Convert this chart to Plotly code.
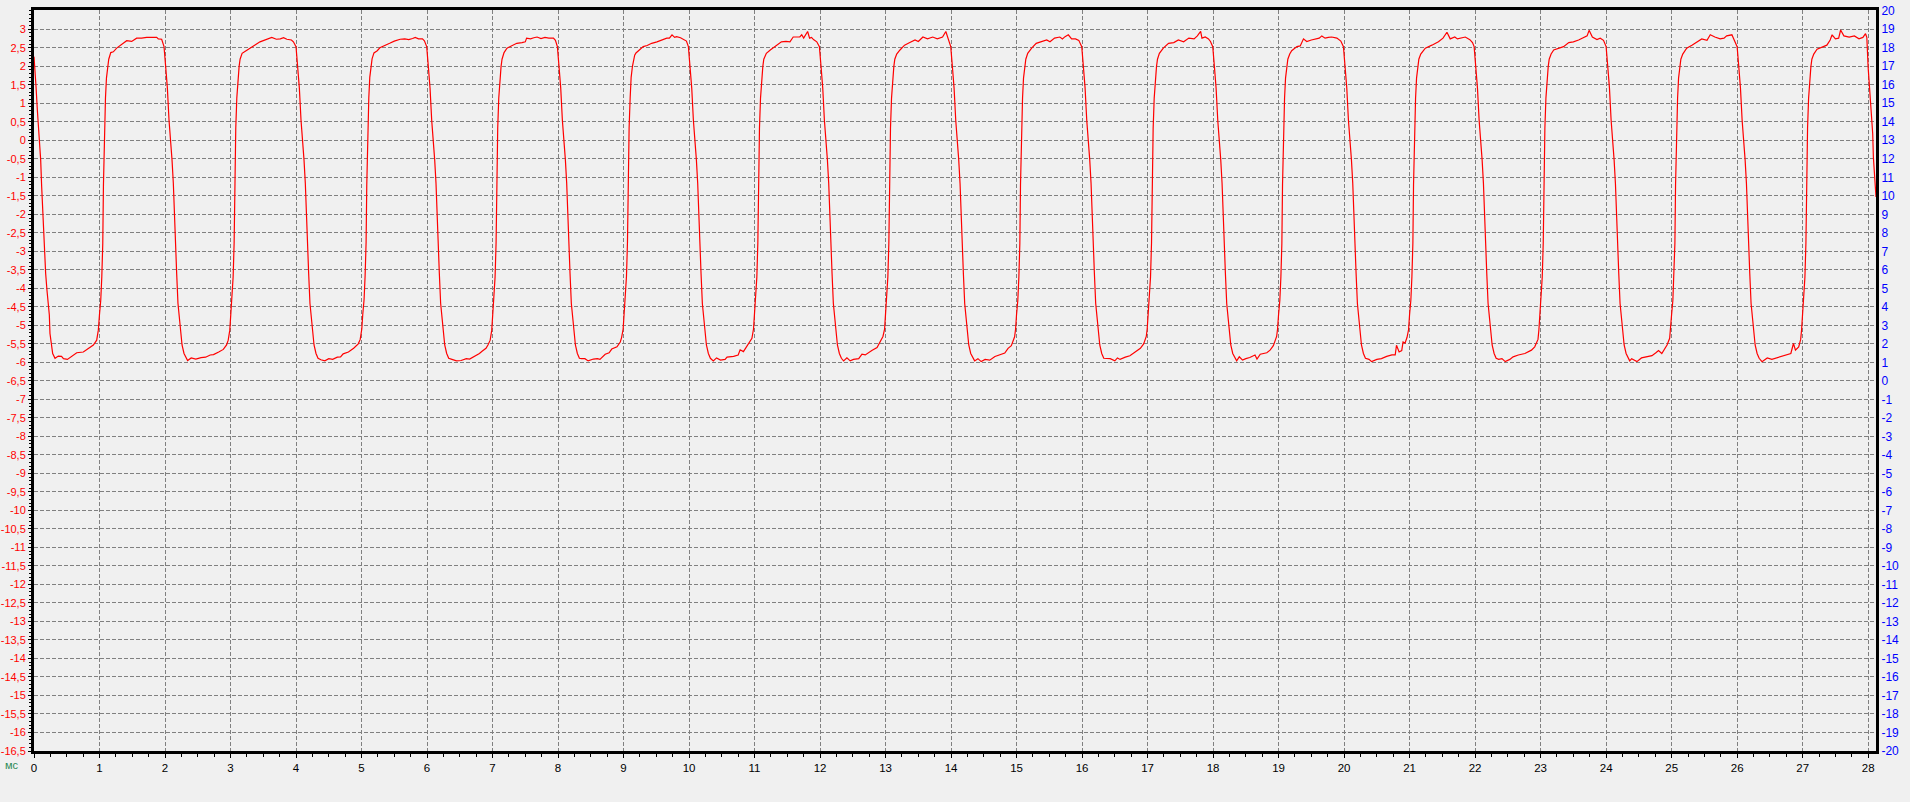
import plotly.graph_objects as go

# Oscillogram samples: (time in ms, value on the left scale)
samples = [
    (0.000, 2.26), (0.015, 1.97), (0.031, 1.45), (0.051, 0.82), (0.071, 0.37), (0.081, -0.08), (0.102, -0.53),
    (0.117, -1.25), (0.132, -1.88), (0.148, -2.42), (0.163, -2.96), (0.178, -3.60), (0.198, -4.05), (0.219, -4.41),
    (0.234, -4.72), (0.244, -5.22), (0.265, -5.58), (0.285, -5.76), (0.321, -5.89), (0.371, -5.83), (0.42, -5.84),
    (0.45, -5.90), (0.51, -5.92), (0.575, -5.83), (0.652, -5.74), (0.753, -5.72), (0.83, -5.62), (0.906, -5.53),
    (0.957, -5.40), (0.982, -5.13), (0.999, -4.72), (1.019, -4.32), (1.035, -3.69), (1.050, -2.78), (1.060, -1.21),
    (1.075, 0.32), (1.091, 1.14), (1.106, 1.68), (1.126, 1.99), (1.141, 2.19), (1.172, 2.37), (1.211, 2.39),
    (1.262, 2.49), (1.338, 2.60), (1.415, 2.69), (1.491, 2.67), (1.567, 2.76), (1.643, 2.76), (1.72, 2.78),
    (1.873, 2.78), (1.898, 2.74), (1.949, 2.73),
    # pulse 1 fall
    (1.985, 2.53), (2.010, 1.99), (2.036, 1.41), (2.061, 0.55), (2.087, 0.01), (2.107, -0.53), (2.127, -1.16),
    (2.142, -1.97), (2.158, -2.96), (2.178, -3.60), (2.198, -4.41), (2.219, -4.77), (2.239, -5.22), (2.260, -5.53),
    (2.290, -5.76), (2.321, -5.89),
    (2.345, -5.95), (2.40, -5.88), (2.47, -5.91), (2.55, -5.87), (2.62, -5.86), (2.69, -5.80), (2.74, -5.79),
    (2.82, -5.72), (2.89, -5.65), (2.94, -5.53),
    # pulse 2
    (2.965, -5.40), (2.989, -5.13), (3.004, -4.72), (3.024, -4.32), (3.040, -3.69), (3.055, -2.78), (3.065, -1.21),
    (3.080, 0.32), (3.096, 1.14), (3.111, 1.68), (3.131, 1.99), (3.146, 2.19), (3.177, 2.35),
    (3.22, 2.40), (3.30, 2.50), (3.38, 2.58), (3.45, 2.66), (3.52, 2.70), (3.58, 2.74), (3.63, 2.78), (3.70, 2.73),
    (3.76, 2.74), (3.81, 2.77), (3.86, 2.73), (3.93, 2.71), (3.96, 2.66),
    (4.000, 2.53), (4.025, 1.99), (4.051, 1.41), (4.076, 0.55), (4.102, 0.01), (4.122, -0.53), (4.142, -1.16),
    (4.157, -1.97), (4.173, -2.96), (4.193, -3.60), (4.213, -4.41), (4.234, -4.77), (4.254, -5.22), (4.275, -5.53),
    (4.305, -5.76), (4.336, -5.89),
    (4.38, -5.93), (4.44, -5.96), (4.50, -5.90), (4.56, -5.92), (4.63, -5.86), (4.68, -5.85), (4.72, -5.77),
    (4.80, -5.72), (4.88, -5.62), (4.95, -5.50),
    # pulse 3
    (4.980, -5.38), (5.004, -5.10), (5.019, -4.70), (5.039, -4.30), (5.055, -3.65), (5.070, -2.75), (5.080, -1.20),
    (5.095, 0.35), (5.111, 1.15), (5.126, 1.70), (5.146, 2.00), (5.161, 2.20), (5.190, 2.36),
    (5.24, 2.42), (5.28, 2.50), (5.35, 2.55), (5.43, 2.62), (5.50, 2.68), (5.59, 2.73), (5.66, 2.74), (5.72, 2.72),
    (5.78, 2.75), (5.82, 2.78), (5.87, 2.74), (5.93, 2.74), (5.96, 2.69),
    (5.995, 2.53), (6.020, 1.99), (6.046, 1.41), (6.071, 0.55), (6.097, 0.01), (6.117, -0.53), (6.137, -1.16),
    (6.152, -1.97), (6.168, -2.96), (6.188, -3.60), (6.208, -4.41), (6.229, -4.77), (6.249, -5.22), (6.270, -5.53),
    (6.300, -5.76), (6.331, -5.89),
    (6.38, -5.92), (6.45, -5.96), (6.52, -5.95), (6.60, -5.90), (6.65, -5.91), (6.70, -5.86), (6.75, -5.83),
    (6.80, -5.76), (6.84, -5.70), (6.90, -5.62), (6.93, -5.53),
    # pulse 4
    (6.964, -5.40), (6.988, -5.13), (7.003, -4.72), (7.023, -4.32), (7.039, -3.69), (7.054, -2.78), (7.064, -1.21),
    (7.079, 0.32), (7.095, 1.14), (7.110, 1.68), (7.130, 1.99), (7.145, 2.19), (7.176, 2.37),
    (7.22, 2.49), (7.30, 2.55), (7.37, 2.62), (7.45, 2.64), (7.50, 2.66), (7.52, 2.76), (7.58, 2.74), (7.63, 2.77),
    (7.68, 2.79), (7.74, 2.75), (7.80, 2.78), (7.86, 2.76), (7.93, 2.76), (7.96, 2.70),
    (7.990, 2.53), (8.015, 1.99), (8.041, 1.41), (8.066, 0.55), (8.092, 0.01), (8.112, -0.53), (8.132, -1.16),
    (8.147, -1.97), (8.163, -2.96), (8.183, -3.60), (8.203, -4.41), (8.224, -4.77), (8.244, -5.22), (8.265, -5.53),
    (8.295, -5.76), (8.326, -5.89),
    (8.36, -5.90), (8.41, -5.90), (8.46, -5.96), (8.54, -5.91), (8.60, -5.90), (8.64, -5.92), (8.72, -5.78),
    (8.78, -5.74), (8.82, -5.64), (8.90, -5.58), (8.95, -5.45),
    # pulse 5
    (8.970, -5.33), (8.994, -5.10), (9.009, -4.70), (9.029, -4.30), (9.045, -3.67), (9.060, -2.75), (9.070, -1.20),
    (9.085, 0.33), (9.101, 1.15), (9.116, 1.70), (9.136, 2.00), (9.151, 2.18), (9.170, 2.30),
    (9.19, 2.36), (9.23, 2.42), (9.30, 2.53), (9.36, 2.56), (9.43, 2.62), (9.51, 2.66), (9.58, 2.70), (9.66, 2.76),
    (9.70, 2.76), (9.74, 2.85), (9.78, 2.78), (9.81, 2.80), (9.87, 2.77), (9.91, 2.72), (9.96, 2.68),
    (9.990, 2.53), (10.015, 1.99), (10.041, 1.41), (10.066, 0.55), (10.092, 0.01), (10.112, -0.53), (10.132, -1.16),
    (10.147, -1.97), (10.163, -2.96), (10.183, -3.60), (10.203, -4.41), (10.224, -4.77), (10.244, -5.22),
    (10.265, -5.53), (10.295, -5.76), (10.326, -5.89),
    (10.37, -5.96), (10.42, -5.88), (10.48, -5.94), (10.55, -5.92), (10.58, -5.86), (10.68, -5.84), (10.75, -5.80),
    (10.78, -5.66), (10.83, -5.71), (10.88, -5.58), (10.93, -5.45),
    # pulse 6
    (10.960, -5.35), (10.984, -5.10), (10.999, -4.72), (11.019, -4.32), (11.035, -3.69), (11.050, -2.78),
    (11.060, -1.21), (11.075, 0.32), (11.091, 1.14), (11.106, 1.68), (11.126, 1.99), (11.141, 2.19), (11.170, 2.33),
    (11.18, 2.35), (11.24, 2.44), (11.34, 2.57), (11.41, 2.66), (11.48, 2.67), (11.54, 2.66), (11.59, 2.79),
    (11.65, 2.78), (11.69, 2.79), (11.72, 2.85), (11.75, 2.76), (11.81, 2.94), (11.84, 2.76), (11.87, 2.78),
    (11.90, 2.72), (11.95, 2.66),
    (11.990, 2.53), (12.015, 1.99), (12.041, 1.41), (12.066, 0.55), (12.092, 0.01), (12.112, -0.53), (12.132, -1.16),
    (12.147, -1.97), (12.163, -2.96), (12.183, -3.60), (12.203, -4.41), (12.224, -4.77), (12.244, -5.22),
    (12.265, -5.53), (12.295, -5.76), (12.326, -5.89),
    (12.36, -5.96), (12.41, -5.88), (12.46, -5.96), (12.51, -5.92), (12.59, -5.90), (12.64, -5.78), (12.69, -5.80),
    (12.74, -5.73), (12.79, -5.68), (12.87, -5.60), (12.92, -5.45), (12.96, -5.30),
    # pulse 7
    (12.985, -5.10), (12.999, -4.72), (13.019, -4.32), (13.035, -3.69), (13.050, -2.78), (13.060, -1.21),
    (13.075, 0.32), (13.091, 1.14), (13.106, 1.68), (13.126, 1.99), (13.141, 2.19), (13.170, 2.33),
    (13.22, 2.44), (13.29, 2.57), (13.37, 2.64), (13.45, 2.71), (13.50, 2.67), (13.57, 2.79), (13.64, 2.74),
    (13.72, 2.79), (13.79, 2.74), (13.87, 2.79), (13.92, 2.94), (13.96, 2.75),
    (13.995, 2.53), (14.020, 1.99), (14.046, 1.41), (14.071, 0.55), (14.097, 0.01), (14.117, -0.53), (14.137, -1.16),
    (14.152, -1.97), (14.168, -2.96), (14.188, -3.60), (14.208, -4.41), (14.229, -4.77), (14.249, -5.22),
    (14.270, -5.53), (14.300, -5.76), (14.331, -5.89),
    (14.36, -5.96), (14.41, -5.90), (14.46, -5.98), (14.52, -5.92), (14.59, -5.94), (14.67, -5.84), (14.75, -5.80),
    (14.82, -5.75), (14.87, -5.62), (14.92, -5.55), (14.97, -5.31),
    # pulse 8
    (14.985, -5.10), (14.999, -4.72), (15.019, -4.32), (15.035, -3.69), (15.050, -2.78), (15.060, -1.21),
    (15.075, 0.32), (15.091, 1.14), (15.106, 1.68), (15.126, 1.99), (15.141, 2.19), (15.170, 2.35),
    (15.23, 2.49), (15.30, 2.62), (15.38, 2.66), (15.46, 2.71), (15.51, 2.66), (15.58, 2.76), (15.66, 2.79),
    (15.70, 2.74), (15.74, 2.80), (15.79, 2.85), (15.84, 2.74), (15.90, 2.74), (15.95, 2.70),
    (15.995, 2.53), (16.020, 1.99), (16.046, 1.41), (16.071, 0.55), (16.097, 0.01), (16.117, -0.53), (16.137, -1.16),
    (16.152, -1.97), (16.168, -2.96), (16.188, -3.60), (16.208, -4.41), (16.229, -4.77), (16.249, -5.22),
    (16.270, -5.53), (16.300, -5.76), (16.331, -5.89),
    (16.43, -5.90), (16.50, -5.96), (16.54, -5.88), (16.58, -5.92), (16.66, -5.86), (16.73, -5.82), (16.81, -5.72),
    (16.89, -5.62), (16.94, -5.50), (16.98, -5.30),
    # pulse 9
    (16.994, -5.10), (17.009, -4.72), (17.029, -4.32), (17.045, -3.69), (17.060, -2.78), (17.070, -1.21),
    (17.085, 0.32), (17.101, 1.14), (17.116, 1.68), (17.136, 1.99), (17.151, 2.19), (17.180, 2.35),
    (17.24, 2.49), (17.32, 2.62), (17.40, 2.64), (17.47, 2.71), (17.55, 2.66), (17.63, 2.76), (17.71, 2.74),
    (17.76, 2.82), (17.81, 2.94), (17.83, 2.76), (17.88, 2.79), (17.93, 2.74), (17.96, 2.67),
    (17.995, 2.53), (18.020, 1.99), (18.046, 1.41), (18.071, 0.55), (18.097, 0.01), (18.117, -0.53), (18.137, -1.16),
    (18.152, -1.97), (18.168, -2.96), (18.188, -3.60), (18.208, -4.41), (18.229, -4.77), (18.249, -5.22),
    (18.270, -5.53), (18.300, -5.76), (18.331, -5.89),
    (18.36, -5.96), (18.40, -5.85), (18.45, -5.94), (18.50, -5.90), (18.56, -5.87), (18.64, -5.80), (18.67, -5.91),
    (18.72, -5.78), (18.82, -5.74), (18.87, -5.67), (18.92, -5.55), (18.97, -5.30),
    # pulse 10
    (18.984, -5.10), (18.999, -4.72), (19.019, -4.32), (19.035, -3.69), (19.050, -2.78), (19.060, -1.21),
    (19.075, 0.32), (19.091, 1.14), (19.106, 1.68), (19.126, 1.99), (19.141, 2.19), (19.170, 2.33),
    (19.20, 2.42), (19.28, 2.53), (19.33, 2.55), (19.38, 2.74), (19.43, 2.67), (19.50, 2.71), (19.58, 2.74),
    (19.62, 2.76), (19.66, 2.82), (19.71, 2.76), (19.76, 2.78), (19.81, 2.79), (19.89, 2.76), (19.95, 2.68),
    (19.990, 2.53), (20.015, 1.99), (20.041, 1.41), (20.066, 0.55), (20.092, 0.01), (20.112, -0.53), (20.132, -1.16),
    (20.147, -1.97), (20.163, -2.96), (20.183, -3.60), (20.203, -4.41), (20.224, -4.77), (20.244, -5.22),
    (20.265, -5.53), (20.295, -5.76), (20.326, -5.89),
    (20.38, -5.92), (20.42, -5.98), (20.50, -5.92), (20.57, -5.90), (20.65, -5.84), (20.73, -5.80), (20.78, -5.80),
    (20.80, -5.54), (20.84, -5.72), (20.88, -5.68), (20.90, -5.45), (20.93, -5.48), (20.96, -5.33),
    # pulse 11
    (20.984, -5.12), (20.999, -4.72), (21.019, -4.32), (21.035, -3.69), (21.050, -2.78), (21.060, -1.21),
    (21.075, 0.32), (21.091, 1.14), (21.106, 1.68), (21.126, 1.99), (21.141, 2.19), (21.170, 2.33),
    (21.24, 2.49), (21.34, 2.57), (21.44, 2.66), (21.51, 2.76), (21.57, 2.92), (21.62, 2.74), (21.69, 2.79),
    (21.73, 2.74), (21.77, 2.75), (21.85, 2.79), (21.92, 2.72), (21.96, 2.64),
    (21.985, 2.53), (22.010, 1.99), (22.036, 1.41), (22.061, 0.55), (22.087, 0.01), (22.107, -0.53), (22.127, -1.16),
    (22.142, -1.97), (22.158, -2.96), (22.178, -3.60), (22.198, -4.41), (22.219, -4.77), (22.239, -5.22),
    (22.260, -5.53), (22.290, -5.76), (22.321, -5.89),
    (22.36, -5.92), (22.41, -5.90), (22.46, -5.98), (22.53, -5.92), (22.58, -5.85), (22.66, -5.80), (22.76, -5.76),
    (22.86, -5.67), (22.91, -5.58), (22.96, -5.38),
    # pulse 12
    (22.974, -5.12), (22.989, -4.72), (23.009, -4.32), (23.025, -3.69), (23.040, -2.78), (23.050, -1.21),
    (23.065, 0.32), (23.081, 1.14), (23.096, 1.68), (23.116, 1.99), (23.131, 2.19), (23.160, 2.33),
    (23.20, 2.44), (23.27, 2.49), (23.35, 2.53), (23.43, 2.64), (23.50, 2.66), (23.58, 2.71), (23.66, 2.79),
    (23.71, 2.82), (23.74, 2.97), (23.79, 2.79), (23.86, 2.72), (23.91, 2.76), (23.96, 2.70),
    (24.000, 2.53), (24.025, 1.99), (24.051, 1.41), (24.076, 0.55), (24.102, 0.01), (24.122, -0.53), (24.142, -1.16),
    (24.157, -1.97), (24.173, -2.96), (24.193, -3.60), (24.213, -4.41), (24.234, -4.77), (24.254, -5.22),
    (24.275, -5.53), (24.305, -5.76), (24.336, -5.89),
    (24.36, -5.96), (24.39, -5.90), (24.47, -5.98), (24.54, -5.88), (24.62, -5.86), (24.70, -5.82), (24.76, -5.74),
    (24.80, -5.68), (24.85, -5.76), (24.93, -5.53), (24.97, -5.35),
    # pulse 13
    (24.984, -5.12), (24.999, -4.72), (25.019, -4.32), (25.035, -3.69), (25.050, -2.78), (25.060, -1.21),
    (25.075, 0.32), (25.091, 1.14), (25.106, 1.68), (25.126, 1.99), (25.141, 2.19), (25.170, 2.33),
    (25.23, 2.49), (25.31, 2.57), (25.39, 2.66), (25.46, 2.74), (25.54, 2.70), (25.59, 2.85), (25.66, 2.79),
    (25.74, 2.74), (25.80, 2.76), (25.84, 2.82), (25.92, 2.85), (25.97, 2.66),
    (26.000, 2.53), (26.025, 1.99), (26.051, 1.41), (26.076, 0.55), (26.102, 0.01), (26.122, -0.53), (26.142, -1.16),
    (26.157, -1.97), (26.173, -2.96), (26.193, -3.60), (26.213, -4.41), (26.234, -4.77), (26.254, -5.22),
    (26.275, -5.53), (26.305, -5.76), (26.336, -5.89),
    (26.38, -5.98), (26.46, -5.88), (26.53, -5.92), (26.63, -5.86), (26.74, -5.80), (26.82, -5.76), (26.86, -5.49),
    (26.89, -5.67), (26.94, -5.58), (26.97, -5.38),
    # pulse 14
    (26.984, -5.12), (26.999, -4.72), (27.019, -4.32), (27.035, -3.69), (27.050, -2.78), (27.060, -1.21),
    (27.075, 0.32), (27.091, 1.14), (27.106, 1.68), (27.126, 1.99), (27.141, 2.19), (27.170, 2.33),
    (27.22, 2.46), (27.30, 2.53), (27.37, 2.57), (27.42, 2.71), (27.45, 2.85), (27.50, 2.74), (27.55, 2.76),
    (27.58, 2.98), (27.63, 2.82), (27.71, 2.79), (27.79, 2.82), (27.86, 2.74), (27.92, 2.78), (27.96, 2.88),
    (27.98, 2.78), (28.00, 1.97), (28.03, 1.16), (28.05, 0.53), (28.07, 0.17), (28.08, -0.46), (28.10, -1.08),
    (28.12, -1.53),
]
time_ms = [s[0] for s in samples]
signal = [s[1] for s in samples]

x_ticks = list(range(0, 29))
left_tick_vals = [-16.5 + 0.5 * i for i in range(40)]
left_tick_text = [(str(int(v)) if float(v).is_integer() else ("%.1f" % v).replace(".", ",")) for v in left_tick_vals]
right_tick_vals = list(range(-20, 21))
right_tick_text = [str(v) for v in right_tick_vals]

X_RANGE = [0, 28.12]
LEFT_RANGE = [-16.5, 3.52]
RIGHT_RANGE = [-20, 20.04]

GRID = dict(showgrid=True, gridcolor="#808080", gridwidth=1, griddash="4px,2px")

fig = go.Figure()
fig.add_trace(go.Scatter(x=time_ms, y=signal, mode="lines",
                         line=dict(color="#ff0000", width=1.2), hoverinfo="skip", showlegend=False))
fig.add_trace(go.Scatter(x=[0], y=[0], yaxis="y2", mode="markers", marker=dict(opacity=0),
                         hoverinfo="skip", showlegend=False))

fig.update_layout(
    width=1910, height=802,
    margin=dict(l=34, r=34, t=10, b=51),
    paper_bgcolor="#f0f0f0", plot_bgcolor="#f0f0f0",
    font=dict(family="Liberation Sans, Arial, sans-serif", size=11, color="black"),
    xaxis=dict(range=X_RANGE, tickvals=x_ticks, ticktext=[str(v) for v in x_ticks],
               ticks="outside", ticklen=4, tickcolor="black", tickwidth=1,
               tickfont=dict(size=11.5, color="black"), automargin=False,
               minor=dict(dtick=0.25, tick0=0, ticks="outside", ticklen=3, tickcolor="black", showgrid=False),
               showline=True, linecolor="black", linewidth=3, mirror=True, zeroline=False, **GRID),
    yaxis=dict(range=LEFT_RANGE, tickvals=left_tick_vals, ticktext=left_tick_text,
               ticks="outside", ticklen=3, tickcolor="black", tickwidth=1,
               tickfont=dict(size=11, color="#ff0000"), automargin=False,
               minor=dict(dtick=0.1, tick0=0, ticks="outside", ticklen=2, tickcolor="black", showgrid=False),
               showline=True, linecolor="black", linewidth=3, mirror=True, zeroline=False, **GRID),
    yaxis2=dict(range=RIGHT_RANGE, overlaying="y", side="right", tickvals=right_tick_vals,
                ticktext=right_tick_text, ticks="outside", ticklen=2, tickcolor="rgba(0,0,0,0)",
                tickfont=dict(size=12, color="#0000ff"), automargin=False,
                showgrid=False, zeroline=False, showline=False),
    annotations=[dict(text="мс", xref="paper", yref="paper", x=-0.0119, y=-0.019,
                      xanchor="center", yanchor="middle", showarrow=False,
                      font=dict(size=11, color="#2e8b57"))],
)

fig.write_html("out.html", config={"displayModeBar": False},
               post_script="document.body.style.margin='0';document.body.style.overflow='hidden';")
